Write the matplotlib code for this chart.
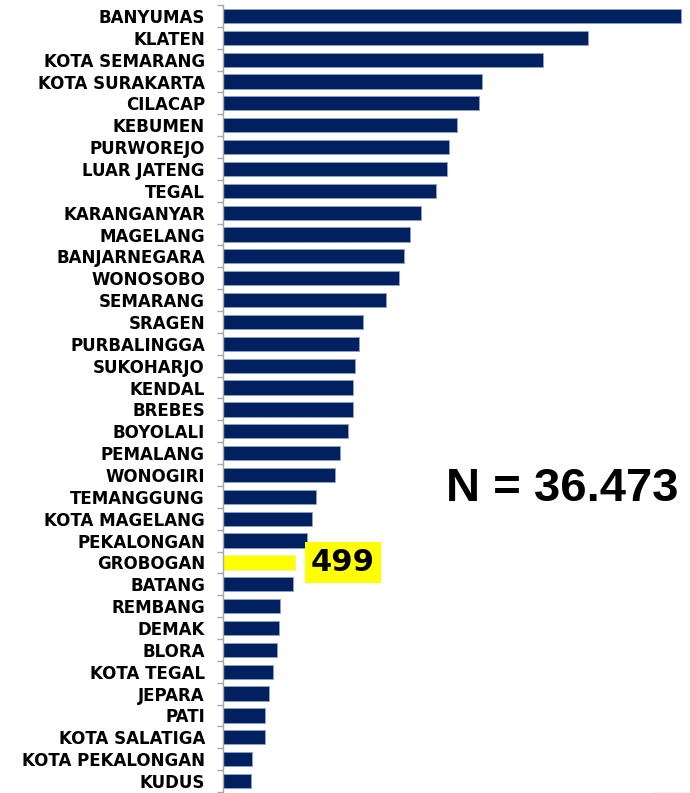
import numpy as np
import matplotlib.pyplot as plt
from matplotlib.patches import Ellipse

regions = ['BANYUMAS', 'KLATEN', 'KOTA SEMARANG', 'KOTA SURAKARTA', 'CILACAP',
           'KEBUMEN', 'PURWOREJO', 'LUAR JATENG', 'TEGAL', 'KARANGANYAR',
           'MAGELANG', 'BANJARNEGARA', 'WONOSOBO', 'SEMARANG', 'SRAGEN',
           'PURBALINGGA', 'SUKOHARJO', 'KENDAL', 'BREBES', 'BOYOLALI',
           'PEMALANG', 'WONOGIRI', 'TEMANGGUNG', 'KOTA MAGELANG', 'PEKALONGAN',
           'GROBOGAN', 'BATANG', 'REMBANG', 'DEMAK', 'BLORA',
           'KOTA TEGAL', 'JEPARA', 'PATI', 'KOTA SALATIGA', 'KOTA PEKALONGAN',
           'KUDUS']
counts = [3179, 2532, 2220, 1800, 1774,
          1626, 1571, 1557, 1476, 1377,
          1298, 1257, 1222, 1134, 973,
          942, 917, 903, 900, 864,
          811, 774, 642, 615, 584,
          499, 487, 397, 388, 376,
          349, 321, 293, 289, 199,
          197]
highlight = 'GROBOGAN'
total_label = 'N = 36.473'

navy = '#002060'
yellow = '#FFFF00'

fig = plt.figure(figsize=(6.9, 7.93), dpi=100)
ax = fig.add_axes([0.3232, 0.0013, 0.6768, 0.9924])

y = np.arange(len(regions))
colors = [yellow if r == highlight else navy for r in regions]
edges = ['#F0F0A0' if r == highlight else '#8FA3C8' for r in regions]
ax.barh(y, counts, height=0.65, color=colors, edgecolor=edges, linewidth=0.6)

ax.set_ylim(len(regions) - 0.5, -0.5)
ax.set_xlim(0, 3240)
ax.set_yticks(y)
ax.set_yticklabels(regions, fontsize=12, fontweight='bold', family='DejaVu Sans')
ax.tick_params(axis='y', which='major', length=0, pad=13)
ax.set_yticks(np.arange(len(regions) + 1) - 0.5, minor=True)
ax.tick_params(axis='y', which='minor', length=4, width=1, color='#A6A6A6')
ax.set_xticks([])
for s in ['top', 'right', 'bottom']:
    ax.spines[s].set_visible(False)
ax.spines['left'].set_color('#A6A6A6')
ax.spines['left'].set_linewidth(1)

# label for highlighted bar
hi = regions.index(highlight)
ax.text(833, hi, str(counts[hi]), fontsize=22, fontweight='bold', family='DejaVu Sans',
        ha='center', va='center',
        bbox=dict(facecolor=yellow, edgecolor='none', boxstyle='square,pad=0.2'))

fig.text(0.815, 0.383, total_label, fontsize=34, fontweight='bold',
         family='Liberation Sans', ha='center', va='center')

# faint watermark shape in the corner
fig.patches.append(Ellipse((0.99, 0.03), 0.09, 0.2, transform=fig.transFigure,
                           facecolor='#F4F4F4', edgecolor='none', zorder=-1))

fig.savefig('out.png', dpi=100)
